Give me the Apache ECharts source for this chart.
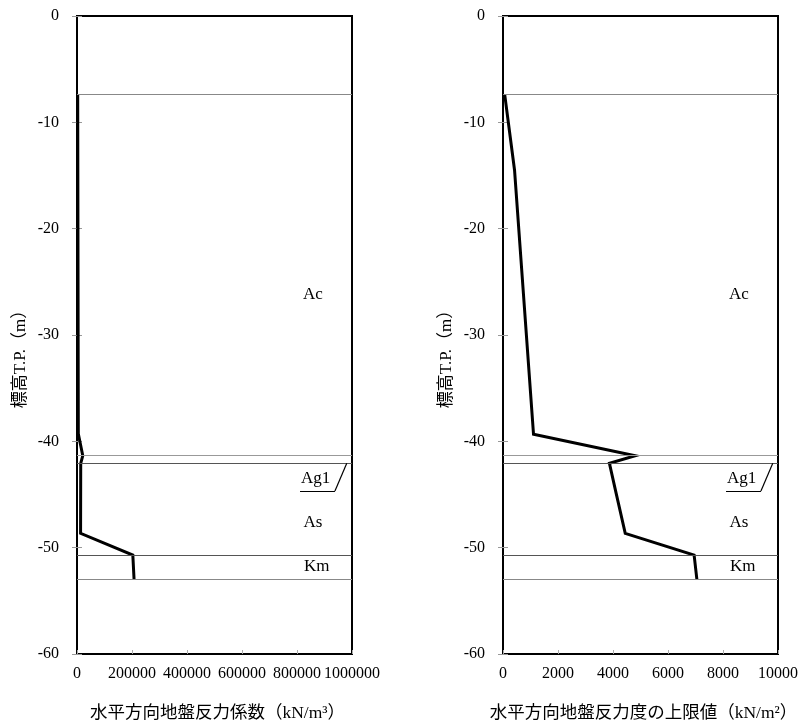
<!DOCTYPE html>
<html><head><meta charset="utf-8">
<script src="https://cdn.jsdelivr.net/npm/echarts@6/dist/echarts.min.js"></script>
<style>html,body{margin:0;padding:0;background:#fff}#c{width:802px;height:725px}</style>
</head><body><div id="c"></div>
<script>
// ---- data ----
const depthTickLabels = ['0','-10','-20','-30','-40','-50','-60'];
const leftXTicks = ['0','200000','400000','600000','800000','1000000'];
const rightXTicks = ['0','2000','4000','6000','8000','10000'];
const leftCurveDepth = [-7.35, -39.3, -41.35, -42.07, -48.65, -50.7, -52.98];
const leftCurveK = [2500, 4800, 21000, 13500, 13000, 203000, 207500];
const rightCurveDepth = [-7.35, -14.5, -39.34, -41.35, -42.07, -44.89, -48.65, -50.7, -52.98];
const rightCurveP = [60, 420, 1110, 4810, 3870, 4115, 4445, 6950, 7050];
const layerBoundaries = [-7.35, -41.35, -42.07, -50.7, -52.98];
const layerNames = ['Ac', 'Ag1', 'As', 'Km'];
const leftXTitle = '水平方向地盤反力係数（kN/m³）';
const rightXTitle = '水平方向地盤反力度の上限値（kN/m²）';
const yTitle = '標高T.P.（m）';

// ---- layout ----
const labelFrac = [0.858, 0.868, 0.858, 0.872];
const labelDepth = [-26.2, -43.5, -47.6, -51.8];
const ulineFrac = [0.811, 0.938, 0.981];
const ulineDepth = [-44.67, -42.07];
const boundaryColors = ['#888', '#999', '#555', '#555', '#888'];
const serif = '"Liberation Serif","Noto Sans CJK JP",serif';
const grids = [
  {left: 77, top: 16, width: 275, height: 638},
  {left: 503, top: 16, width: 275, height: 638}
];
const xMax = [1000000, 10000];
const xTicksAll = [leftXTicks, rightXTicks];
const xTitles = [leftXTitle, rightXTitle];

const chart = echarts.init(document.getElementById('c'), null, {renderer: 'canvas'});
const xAxes = [], yAxes = [], series = [];
[0, 1].forEach(i => {
  const ticks = xTicksAll[i];
  const interval = Number(ticks[1]);
  xAxes.push({
    type: 'value', gridIndex: i, min: 0, max: xMax[i], interval: interval,
    axisLine: {show: true, onZero: false, lineStyle: {color: '#000', width: 2}},
    axisTick: {show: true, inside: true, length: 4, lineStyle: {color: '#aaa'}},
    axisLabel: {margin: 12, fontFamily: serif, fontSize: 16, color: '#000',
      formatter: v => ticks[Math.round(v / interval)] ?? ''},
    splitLine: {show: false}
  });
  yAxes.push({
    type: 'value', gridIndex: i, min: -60, max: 0, interval: 10,
    axisLine: {show: true, onZero: false, lineStyle: {color: '#000', width: 1.5}},
    axisTick: {show: true, length: 5, lineStyle: {color: '#999'}},
    axisLabel: {margin: 18, fontFamily: serif, fontSize: 16, color: '#000',
      formatter: v => depthTickLabels[Math.round(-v / 10)] ?? ''},
    splitLine: {show: false}
  });
  yAxes.push({
    type: 'value', gridIndex: i, min: -60, max: 0, interval: 10, position: 'left',
    axisLine: {show: false}, axisLabel: {show: false},
    axisTick: {show: true, inside: true, length: 5, lineStyle: {color: '#999'}},
    splitLine: {show: false}
  });
  const xs = i === 0 ? leftCurveK : rightCurveP;
  const ds = i === 0 ? leftCurveDepth : rightCurveDepth;
  const X = xMax[i];
  series.push({
    type: 'line', xAxisIndex: i, yAxisIndex: i * 2, data: [], silent: true,
    markLine: {
      symbol: 'none', silent: true, label: {show: false}, animation: false,
      data: layerBoundaries.map((d, k) => [
        {coord: [0, d], lineStyle: {color: boundaryColors[k], width: 1, type: 'solid'}},
        {coord: [X, d]}
      ]).concat([
        [{coord: [ulineFrac[0] * X, ulineDepth[0]], lineStyle: {color: '#000', width: 1.2, type: 'solid'}},
         {coord: [ulineFrac[1] * X, ulineDepth[0]]}],
        [{coord: [ulineFrac[1] * X, ulineDepth[0]], lineStyle: {color: '#000', width: 1.2, type: 'solid'}},
         {coord: [ulineFrac[2] * X, ulineDepth[1]]}]
      ])
    }
  });
  series.push({
    type: 'line', xAxisIndex: i, yAxisIndex: i * 2,
    data: xs.map((v, k) => [v, ds[k]]),
    showSymbol: false, symbol: 'none', animation: false,
    lineStyle: {color: '#000', width: 3, join: 'miter'}
  });
  series.push({
    type: 'scatter', xAxisIndex: i, yAxisIndex: i * 2, symbolSize: 1, animation: false,
    itemStyle: {color: 'transparent', opacity: 1},
    data: layerNames.map((n, k) => ({value: [labelFrac[k] * X, labelDepth[k]], name: n})),
    label: {show: true, position: 'inside', formatter: p => p.name, opacity: 1,
      fontFamily: serif, fontSize: 17, color: '#000'}
  });
});

const gr = [];
[0, 1].forEach(i => {
  const g = grids[i];
  gr.push({type: 'text', x: g.left + g.width / 2 + 3, y: 713,
    style: {text: xTitles[i], font: '17.5px ' + serif, fill: '#000', align: 'center', verticalAlign: 'middle'}});
  gr.push({type: 'text', x: g.left - 56, y: 355, rotation: Math.PI / 2,
    style: {text: yTitle, font: '17px ' + serif, fill: '#000', align: 'center', verticalAlign: 'middle'}});
});

chart.setOption({
  animation: false,
  backgroundColor: '#fff',
  grid: grids.map(g => Object.assign({show: true, borderColor: '#000', borderWidth: 2, backgroundColor: 'transparent'}, g)),
  xAxis: xAxes, yAxis: yAxes, series: series, graphic: gr
});
</script></body></html>
